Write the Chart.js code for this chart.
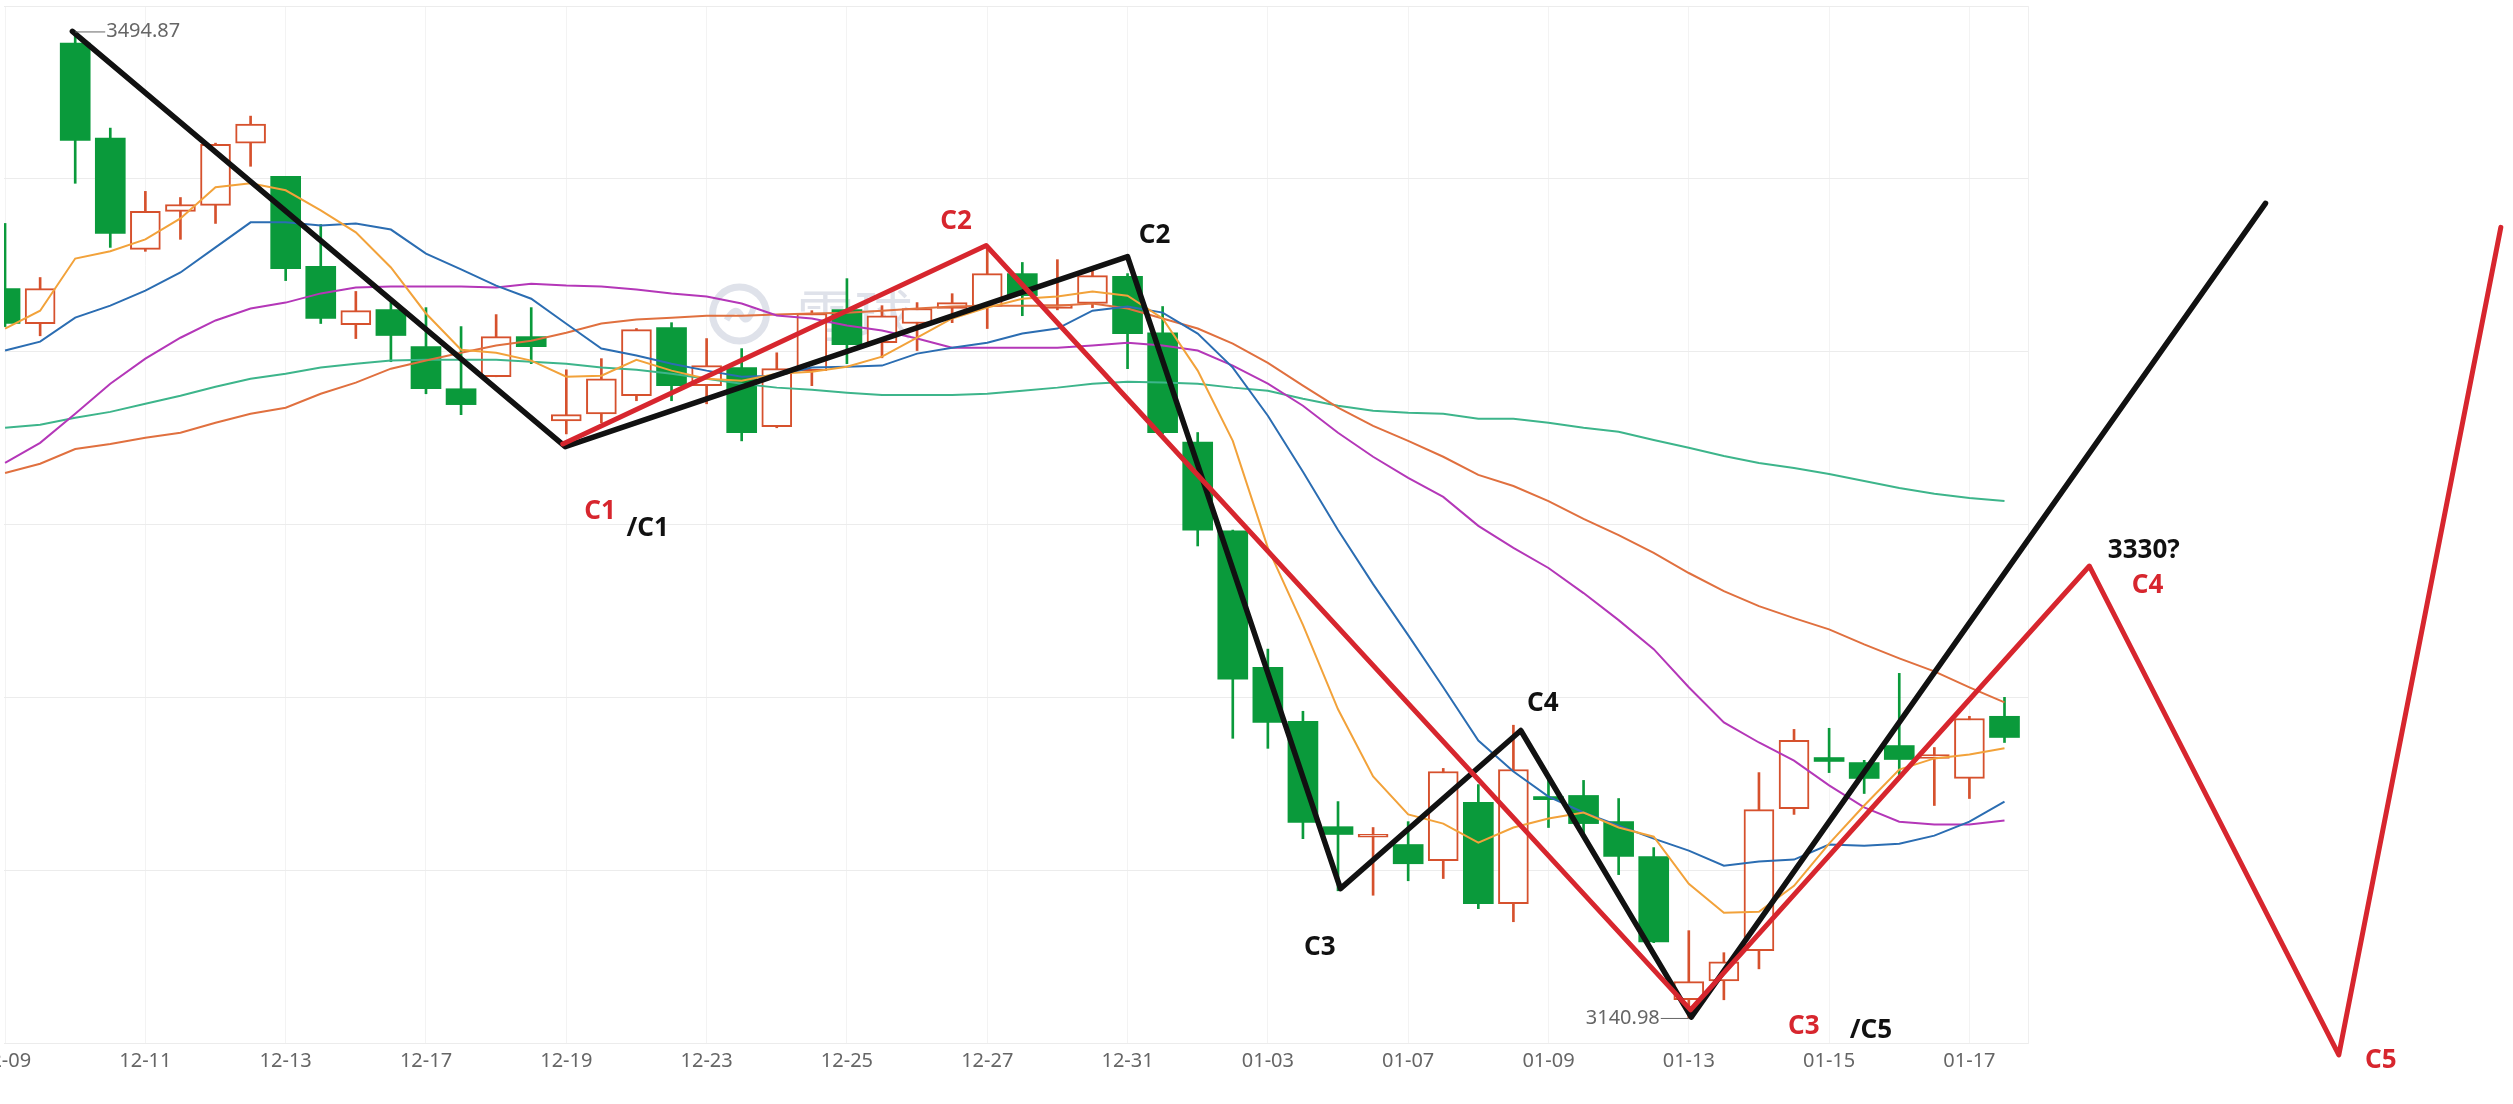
<!DOCTYPE html>
<html>
<head>
<meta charset="utf-8">
<script src="https://cdn.jsdelivr.net/npm/chart.js@4.4.1/dist/chart.umd.min.js"></script>
<style>
html, body { margin: 0; padding: 0; background: #fff; overflow: hidden; }
canvas { display: block; }
</style>
</head>
<body>
<canvas id="kline" width="2513" height="1104"></canvas>
<script>
// 2-hour bars, two per trading day, 12-09 .. 01-17
var tickBars = [0, 4, 8, 12, 16, 20, 24, 28, 32, 36, 40, 44, 48, 52, 56];
var tickLabels = ["12-09", "12-11", "12-13", "12-17", "12-19", "12-23", "12-25", "12-27",
  "12-31", "01-03", "01-07", "01-09", "01-13", "01-15", "01-17"];
var yTicks = [3132, 3194, 3256, 3318, 3380, 3442, 3504];

var openP = [3402.6, 3390.0, 3490.7, 3456.6, 3416.7, 3430.3, 3432.5, 3454.8, 3442.9, 3410.6,
  3389.7, 3395.1, 3381.8, 3366.7, 3371.0, 3385.4, 3355.2, 3357.7, 3364.2, 3388.6,
  3367.8, 3374.3, 3353.1, 3373.2, 3395.1, 3383.2, 3390.1, 3395.5, 3396.2, 3408.0,
  3395.5, 3397.3, 3407.0, 3386.8, 3347.6, 3315.7, 3266.8, 3247.4, 3209.6, 3205.8,
  3203.2, 3197.4, 3218.3, 3182.0, 3220.4, 3220.8, 3211.4, 3198.9, 3147.5, 3154.3,
  3165.1, 3216.1, 3234.4, 3232.6, 3238.7, 3234.1, 3226.9, 3249.2];
var highP = [3426.0, 3406.6, 3494.87, 3460.2, 3437.5, 3435.3, 3454.8, 3464.5, 3442.9, 3425.6,
  3401.6, 3397.6, 3395.8, 3389.0, 3393.3, 3395.8, 3373.5, 3377.5, 3388.3, 3390.4,
  3384.7, 3381.1, 3379.6, 3394.7, 3406.2, 3396.5, 3397.6, 3400.8, 3418.1, 3412.0,
  3413.0, 3409.8, 3408.0, 3396.2, 3351.0, 3316.0, 3273.3, 3251.0, 3218.6, 3209.3,
  3211.4, 3230.5, 3224.7, 3246.0, 3228.0, 3226.2, 3219.7, 3202.1, 3172.3, 3164.4,
  3229.0, 3244.5, 3244.9, 3233.4, 3264.6, 3238.0, 3249.2, 3256.0];
var lowP = [3389.0, 3385.7, 3440.4, 3417.4, 3416.0, 3420.3, 3426.0, 3446.5, 3405.5, 3390.1,
  3384.7, 3376.4, 3364.9, 3357.4, 3371.0, 3375.7, 3350.5, 3354.5, 3362.4, 3362.4,
  3361.3, 3348.0, 3352.7, 3367.8, 3375.7, 3377.8, 3380.4, 3390.4, 3388.3, 3392.9,
  3395.0, 3395.8, 3373.9, 3350.5, 3310.3, 3241.3, 3237.7, 3205.3, 3186.6, 3185.0,
  3190.2, 3191.0, 3180.2, 3175.5, 3209.3, 3206.0, 3192.4, 3168.0, 3140.98, 3147.5,
  3158.6, 3214.0, 3229.0, 3221.5, 3228.3, 3217.2, 3219.7, 3239.8];
var closeP = [3390.1, 3402.6, 3455.8, 3422.4, 3430.3, 3432.8, 3454.4, 3461.6, 3409.8, 3391.9,
  3394.7, 3385.8, 3366.7, 3361.0, 3385.4, 3381.8, 3357.4, 3370.3, 3387.9, 3367.8,
  3375.0, 3350.9, 3373.9, 3393.7, 3382.5, 3392.9, 3395.5, 3397.6, 3408.0, 3400.1,
  3396.9, 3407.3, 3386.5, 3350.9, 3316.0, 3262.5, 3247.0, 3211.1, 3206.8, 3206.3,
  3196.3, 3229.4, 3182.0, 3230.1, 3219.3, 3210.7, 3198.9, 3168.3, 3154.0, 3161.1,
  3215.7, 3240.6, 3233.0, 3226.9, 3233.7, 3235.5, 3248.4, 3241.6];

var ma5 = [3388.3, 3394.7, 3413.4, 3416.0, 3420.3, 3427.8, 3439.0, 3440.4, 3437.9, 3430.7,
  3422.8, 3410.2, 3393.7, 3380.7, 3379.6, 3376.8, 3371.0, 3371.4, 3377.1, 3373.2,
  3370.3, 3369.6, 3372.1, 3372.8, 3374.6, 3378.2, 3385.0, 3391.9, 3395.8, 3399.0,
  3399.8, 3401.6, 3400.1, 3391.9, 3373.2, 3348.0, 3309.6, 3282.0, 3251.7, 3227.6,
  3214.0, 3210.7, 3203.9, 3209.3, 3212.5, 3214.7, 3209.3, 3206.0, 3189.1, 3178.7,
  3179.1, 3188.4, 3203.5, 3217.2, 3230.1, 3234.1, 3235.5, 3237.7];
var ma10 = [3380.4, 3383.6, 3392.2, 3396.5, 3401.9, 3408.4, 3417.4, 3426.4, 3426.4, 3425.3,
  3426.0, 3423.8, 3415.2, 3409.5, 3403.7, 3399.0, 3390.0, 3381.1, 3378.6, 3375.7,
  3373.2, 3371.0, 3371.4, 3374.3, 3374.6, 3375.0, 3379.3, 3381.4, 3383.2, 3386.5,
  3388.3, 3394.7, 3396.2, 3394.0, 3386.5, 3374.3, 3357.0, 3336.9, 3316.0, 3296.6,
  3278.3, 3259.6, 3240.5, 3229.4, 3220.4, 3214.7, 3210.0, 3205.3, 3201.0, 3195.6,
  3197.1, 3197.8, 3203.2, 3202.8, 3203.5, 3206.4, 3211.4, 3218.6];
var ma20 = [3340.1, 3347.3, 3357.7, 3368.5, 3377.5, 3385.0, 3391.2, 3395.5, 3397.6, 3400.9,
  3403.0, 3403.4, 3403.4, 3403.4, 3403.0, 3404.4, 3403.7, 3403.4, 3402.3, 3400.9,
  3399.8, 3397.3, 3393.0, 3391.9, 3389.4, 3387.6, 3384.7, 3381.4, 3381.4, 3381.4,
  3381.4, 3382.2, 3383.2, 3382.2, 3380.4, 3375.0, 3368.5, 3360.6, 3350.9, 3342.3,
  3334.7, 3327.9, 3317.5, 3309.6, 3302.4, 3293.4, 3283.7, 3273.3, 3259.6, 3247.0,
  3239.8, 3233.3, 3224.4, 3216.5, 3211.4, 3210.4, 3210.4, 3211.8];
var ma30 = [3336.5, 3339.8, 3345.1, 3346.9, 3349.1, 3350.9, 3354.5, 3357.7, 3359.9, 3364.9,
  3368.9, 3373.9, 3376.8, 3379.6, 3382.2, 3383.9, 3386.8, 3390.1, 3391.5, 3392.2,
  3392.9, 3392.9, 3393.3, 3393.7, 3394.0, 3394.7, 3395.5, 3396.2, 3396.5, 3396.5,
  3396.5, 3397.3, 3395.5, 3391.9, 3388.3, 3382.9, 3376.0, 3367.8, 3359.9, 3353.4,
  3348.0, 3342.3, 3335.8, 3331.8, 3326.4, 3320.0, 3314.2, 3307.8, 3300.6, 3294.1,
  3288.7, 3284.4, 3280.4, 3275.0, 3270.0, 3265.3, 3259.6, 3254.2];
var ma60 = [3352.7, 3353.8, 3356.3, 3358.4, 3361.3, 3364.2, 3367.4, 3370.3, 3372.1, 3374.3,
  3375.7, 3376.8, 3377.1, 3377.1, 3377.1, 3376.4, 3375.7, 3374.3, 3373.5, 3372.1,
  3370.3, 3368.5, 3367.1, 3366.3, 3365.3, 3364.5, 3364.5, 3364.5, 3364.9, 3366.0,
  3367.1, 3368.5, 3369.2, 3368.9, 3368.5, 3367.1, 3366.0, 3363.1, 3360.6, 3358.8,
  3358.1, 3357.7, 3355.9, 3355.9, 3354.5, 3352.7, 3351.3, 3348.3, 3345.5, 3342.6,
  3340.1, 3338.3, 3336.1, 3333.6, 3331.1, 3329.0, 3327.5, 3326.4];

// hand-drawn wave counts (bar index, price)
var blackWave = [[1.92, 3494.9], [15.97, 3345.9], [32.0, 3414.1], [38.07, 3187.4],
  [43.21, 3244.1], [48.07, 3141.3], [64.44, 3433.2]];
var redWave = [[15.9, 3346.9], [27.97, 3418.1], [48.05, 3143.9], [59.42, 3303.1],
  [66.53, 3127.7], [71.15, 3424.6]];
var redDot = [[68.02, 3161.1]];
var notes = [
  ["C1", 16.96, 3322.5, "red"], ["/C1", 18.32, 3316.7, "black"],
  ["C2", 27.11, 3426.7, "red"], ["C2", 32.77, 3421.7, "black"],
  ["C3", 37.48, 3166.1, "black"], ["C4", 43.84, 3253.8, "black"],
  ["C3", 51.28, 3137.9, "red"], ["/C5", 53.19, 3136.6, "black"],
  ["3330?", 60.97, 3308.5, "black"], ["C4", 61.08, 3296.0, "red"],
  ["C5", 67.73, 3125.7, "red"]
];
var peakBar = 2, troughBar = 48;

var xMin = -0.03, xMax = 57.67;
var upColor = "#d6512d", downColor = "#0a9a3b";
var penRed = "#d7262e", penBlack = "#111111";

function pts(arr) { return arr.map(function (p) { return {x: p[0], y: p[1]}; }); }
function series(arr) { return arr.map(function (v, i) { return {x: i, y: v}; }); }
function isUp(i) { return closeP[i] >= openP[i]; }

var bars = openP.map(function (v, i) { return i; });

var wickData = bars.map(function (i) { return {x: i, y: [lowP[i], highP[i]]}; });
var bodyData = bars.map(function (i) { return {x: i, y: [openP[i], closeP[i]]}; });

function maLine(data, color) {
  return {type: "line", data: series(data), borderColor: color, borderWidth: 2,
    pointRadius: 0, fill: false, order: 2};
}

var notesPlugin = {
  id: "notes",
  beforeDatasetsDraw: function (chart) {
    var ctx = chart.ctx, a = chart.chartArea;
    var cx = a.left + 0.3634 * (a.right - a.left);
    var cy = a.top + 0.297 * (a.bottom - a.top);
    ctx.save();
    ctx.strokeStyle = "rgba(196,203,216,0.55)";
    ctx.fillStyle = "rgba(196,203,216,0.55)";
    ctx.lineWidth = 7;
    ctx.beginPath();
    ctx.arc(cx, cy, 27, 0, Math.PI * 2);
    ctx.stroke();
    ctx.lineWidth = 6;
    ctx.beginPath();
    ctx.moveTo(cx - 13, cy + 6);
    ctx.quadraticCurveTo(cx - 4, cy - 10, cx + 2, cy + 2);
    ctx.quadraticCurveTo(cx + 8, cy + 12, cx + 14, cy - 6);
    ctx.stroke();
    ctx.font = "58px 'Noto Sans CJK SC'";
    ctx.textAlign = "left";
    ctx.textBaseline = "middle";
    ctx.fillText("雪球", cx + 57, cy + 2);
    ctx.restore();
  },
  afterDatasetsDraw: function (chart) {
    var ctx = chart.ctx, xs = chart.scales.x, ys = chart.scales.y;
    ctx.save();
    // extreme price markers
    ctx.strokeStyle = "#666";
    ctx.fillStyle = "#666";
    ctx.lineWidth = 1;
    ctx.font = "20px 'Noto Sans'";
    ctx.textBaseline = "middle";
    var px = xs.getPixelForValue(peakBar), py = ys.getPixelForValue(highP[peakBar]);
    ctx.beginPath(); ctx.moveTo(px, py + 0.5); ctx.lineTo(px + 30, py + 0.5); ctx.stroke();
    ctx.textAlign = "left";
    ctx.fillText(highP[peakBar].toFixed(2), px + 31, py);
    var tx = xs.getPixelForValue(troughBar), ty = ys.getPixelForValue(lowP[troughBar]);
    ctx.beginPath(); ctx.moveTo(tx, ty + 0.5); ctx.lineTo(tx - 28, ty + 0.5); ctx.stroke();
    ctx.textAlign = "right";
    ctx.fillText(lowP[troughBar].toFixed(2), tx - 29, ty);
    // wave labels
    ctx.font = "bold 26px 'Noto Sans'";
    ctx.textAlign = "center";
    notes.forEach(function (n) {
      ctx.fillStyle = n[3] === "red" ? penRed : penBlack;
      ctx.fillText(n[0], xs.getPixelForValue(n[1]), ys.getPixelForValue(n[2]));
    });
    ctx.restore();
  }
};

new Chart("kline", {
  type: "bar",
  data: {
    datasets: [
      {type: "line", data: pts(redWave), borderColor: penRed, borderWidth: 5, pointRadius: 0,
        borderJoinStyle: "round", borderCapStyle: "round", clip: false, order: 0},
      {type: "line", data: pts(redDot), showLine: false, pointRadius: 3.5, pointBorderWidth: 0,
        pointBackgroundColor: penRed, clip: false, order: 0},
      {type: "line", data: pts(blackWave), borderColor: penBlack, borderWidth: 5.5, pointRadius: 0,
        borderJoinStyle: "round", borderCapStyle: "round", clip: false, order: 1},
      maLine(ma5, "#f2a23a"),
      maLine(ma10, "#2b6db2"),
      maLine(ma20, "#b437b8"),
      maLine(ma30, "#e0703f"),
      maLine(ma60, "#3db58b"),
      {data: bodyData, grouped: false, barThickness: 30, minBarLength: 3, borderSkipped: false,
        backgroundColor: bars.map(function (i) { return isUp(i) ? "#ffffff" : downColor; }),
        borderColor: bars.map(function (i) { return isUp(i) ? upColor : downColor; }),
        borderWidth: bars.map(function (i) { return isUp(i) ? 2 : 0; }), order: 3},
      {data: wickData, grouped: false, barThickness: 2, borderWidth: 0,
        backgroundColor: bars.map(function (i) { return isUp(i) ? upColor : downColor; }), order: 4}
    ]
  },
  options: {
    responsive: false,
    devicePixelRatio: 1,
    animation: false,
    events: [],
    layout: {padding: {left: 0, right: 485, top: 6, bottom: 25}},
    plugins: {legend: {display: false}, tooltip: {enabled: false}},
    scales: {
      x: {
        type: "linear",
        bounds: "data",
        offset: false,
        afterDataLimits: function (s) { s.min = xMin; s.max = xMax; },
        afterBuildTicks: function (s) { s.ticks = tickBars.map(function (v) { return {value: v}; }); },
        afterFit: function (s) { s.paddingLeft = 0; s.paddingRight = 0; },
        grid: {color: "#f3f3f3", drawTicks: false, offset: false},
        border: {display: false},
        ticks: {
          autoSkip: false, maxRotation: 0, padding: 6, color: "#666",
          font: {family: "Noto Sans", size: 20},
          callback: function (v) { return tickLabels[tickBars.indexOf(v)]; }
        }
      },
      y: {
        position: "right",
        min: 3132,
        max: 3504,
        bounds: "data",
        beginAtZero: false,
        afterBuildTicks: function (s) { s.ticks = yTicks.map(function (v) { return {value: v}; }); },
        grid: {color: "#ececec", drawTicks: false},
        border: {display: true, color: "#efefef"},
        ticks: {display: false}
      }
    }
  },
  plugins: [notesPlugin]
});
</script>
</body>
</html>
